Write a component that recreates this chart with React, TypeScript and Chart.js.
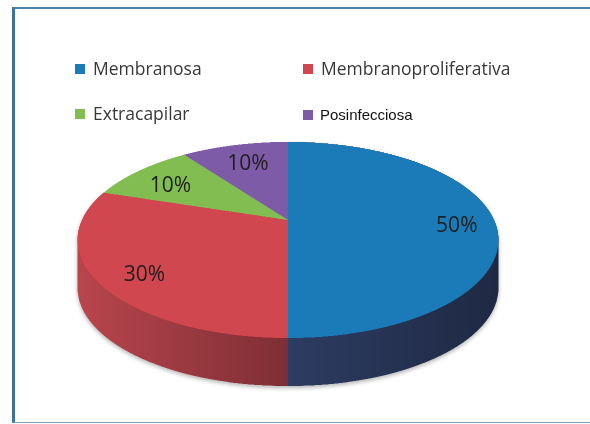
import React, { useEffect, useRef } from 'react';
import { Chart, registerables } from 'chart.js';

Chart.register(...registerables);

// ---- data ----
const categories = ['Membranosa', 'Membranoproliferativa', 'Extracapilar', 'Posinfecciosa'];
const values = [50, 30, 10, 10];
const topColors = ['#1b7bb8', '#d1474f', '#82bd51', '#7d5ba6'];
const sideColors = ['#2d3c62', '#b9454d', '#5f8c3a', '#5a4080'];

// ---- layout / style ----
const W = 590;
const H = 424;
const PROJ = { cx: 288, cy: 220, a: 206, b: 94, k: -0.204, depth: 48, ss: 2 };

function project(X: number, Z: number) {
  const d = 1 + PROJ.k * Z;
  return { x: PROJ.cx + (PROJ.a * X) / d, y: PROJ.cy + (PROJ.b * Z) / d };
}

function makeCanvas(w: number, h: number) {
  const c = document.createElement('canvas');
  c.width = Math.ceil(w);
  c.height = Math.ceil(h);
  return c;
}

function renderSource(arcs: any[], colorFor: (i: number) => string | null) {
  const first = arcs[0];
  const R = first.outerRadius;
  const ox = first.x;
  const oy = first.y;
  const res = 4;
  const m = 2;
  const span = 2 * R * res;
  const c = makeCanvas(span + 2 * m, span + 2 * m);
  const g = c.getContext('2d')!;
  g.translate(m, m);
  g.scale(res, res);
  g.translate(-(ox - R), -(oy - R));
  arcs.forEach((arc, i) => {
    const col = colorFor(i);
    if (col == null) return;
    const el = Object.create(arc);
    el.options = { ...arc.options, backgroundColor: col, borderWidth: 0 };
    el.draw(g);
  });
  return { canvas: c, m, span };
}

function warp(src: { canvas: HTMLCanvasElement; m: number; span: number }) {
  const S = PROJ.ss;
  const out = makeCanvas(W * S, H * S);
  const g = out.getContext('2d')!;
  g.imageSmoothingEnabled = true;
  for (let j = 0; j < H * S; j++) {
    const yp = (j + 0.5) / S - PROJ.cy;
    const Z = yp / (PROJ.b - PROJ.k * yp);
    if (Z <= -1 || Z >= 1) continue;
    const sy = src.m + ((Z + 1) / 2) * src.span;
    const half = PROJ.a / (1 + PROJ.k * Z);
    g.drawImage(src.canvas, src.m, Math.floor(sy), src.span, 1, (PROJ.cx - half) * S, j, 2 * half * S, 1);
  }
  return out;
}

function extrude(img: HTMLCanvasElement, D: number) {
  const out = makeCanvas(img.width, img.height);
  const g = out.getContext('2d')!;
  g.drawImage(img, 0, 0);
  const tmp = makeCanvas(img.width, img.height);
  const tg = tmp.getContext('2d')!;
  let covered = 0;
  while (covered < D) {
    const s = Math.min(covered + 1, D - covered);
    tg.clearRect(0, 0, tmp.width, tmp.height);
    tg.drawImage(out, 0, 0);
    g.drawImage(tmp, 0, s);
    covered += s;
  }
  return { canvas: out, g };
}

const pie3d = {
  id: 'pie3d',
  beforeDatasetsDraw(chart: any) {
    const meta = chart.getDatasetMeta(0);
    const arcs = meta.data as any[];
    if (!arcs.length) return false;
    const ctx: CanvasRenderingContext2D = chart.ctx;
    const S = PROJ.ss;

    // side walls, one slice at a time
    const sides = makeCanvas(W * S, H * S);
    const sg = sides.getContext('2d')!;
    arcs.forEach((arc, i) => {
      let xmin = Infinity;
      let xmax = -Infinity;
      const steps = 120;
      for (let s = 0; s <= steps; s++) {
        const ang = arc.startAngle + ((arc.endAngle - arc.startAngle) * s) / steps;
        if (Math.sin(ang) <= 0) continue;
        const p = project(Math.cos(ang), Math.sin(ang));
        xmin = Math.min(xmin, p.x);
        xmax = Math.max(xmax, p.x);
      }
      if (!isFinite(xmin)) return;
      const src = renderSource(arcs, (k) => (k === i ? sideColors[i] : null));
      const wimg = warp(src);
      const ex = extrude(wimg, PROJ.depth * S);
      const grad = ex.g.createLinearGradient(xmin * S, 0, xmax * S, 0);
      grad.addColorStop(0, 'rgba(0,0,0,0)');
      grad.addColorStop(1, 'rgba(0,0,0,0.32)');
      ex.g.globalCompositeOperation = 'source-atop';
      ex.g.fillStyle = grad;
      ex.g.fillRect(0, 0, W * S, H * S);
      sg.drawImage(ex.canvas, 0, 0);
    });

    ctx.save();
    ctx.shadowColor = 'rgba(0,0,0,0.3)';
    ctx.shadowBlur = 4;
    ctx.shadowOffsetY = 2;
    ctx.drawImage(sides, 0, 0, W, H);
    ctx.restore();

    // top face
    const topSrc = renderSource(arcs, (k) => topColors[k]);
    const topImg = warp(topSrc);
    ctx.drawImage(topImg, 0, 0, W, H);

    // percentage labels
    const total = values.reduce((s, v) => s + v, 0);
    ctx.save();
    ctx.font = '21px "Open Sans"';
    ctx.fillStyle = '#1e1e1e';
    ctx.textAlign = 'center';
    ctx.textBaseline = 'middle';
    arcs.forEach((arc, i) => {
      const mid = (arc.startAngle + arc.endAngle) / 2;
      const f = 0.8;
      const p = project(f * Math.cos(mid), f * Math.sin(mid));
      ctx.fillText(Math.round((values[i] / total) * 100) + '%', p.x + 4, p.y + 6);
    });
    ctx.restore();
    return false;
  },
};

const legendCols = [75, 303];
const legendRows = [64, 109];

export default function App() {
  const ref = useRef<HTMLCanvasElement>(null);
  useEffect(() => {
    document.body.style.margin = '0';
    const chart = new Chart(ref.current!, {
      type: 'pie',
      data: {
        labels: categories,
        datasets: [{ data: values, backgroundColor: topColors, borderWidth: 0 }],
      },
      options: {
        responsive: false,
        animation: false,
        events: [],
        plugins: { legend: { display: false }, tooltip: { enabled: false } },
      },
      plugins: [pie3d as any],
    });
    return () => chart.destroy();
  }, []);

  return (
    <div style={{ position: 'relative', width: W, height: H, overflow: 'hidden', background: '#ffffff' }}>
      <canvas ref={ref} width={W} height={H} style={{ position: 'absolute', left: 0, top: 0 }} />
      <div
        style={{
          position: 'absolute',
          left: 12,
          top: 7,
          width: W,
          height: 413,
          borderTop: '2.5px solid #4a82a8',
          borderLeft: '3px solid #3c74a0',
          borderBottom: '1.5px solid #7fa2ba',
          pointerEvents: 'none',
        }}
      />
      {categories.map((c, i) => {
        const col = i % 2;
        const row = Math.floor(i / 2);
        const alt = i === 3;
        return (
          <div key={c}>
            <div
              style={{
                position: 'absolute',
                left: legendCols[col],
                top: legendRows[row] + (alt ? 1 : 0),
                width: 10,
                height: 10,
                background: topColors[i],
              }}
            />
            <div
              style={{
                position: 'absolute',
                left: legendCols[col] + (alt ? 17 : 18),
                top: legendRows[row] - (alt ? 4.5 : 6),
                lineHeight: '20px',
                fontFamily: alt ? '"Liberation Sans", Arial, sans-serif' : '"Open Sans", sans-serif',
                fontSize: alt ? 15 : 17.5,
                color: alt ? '#111111' : '#383838',
                whiteSpace: 'nowrap',
              }}
            >
              {c}
            </div>
          </div>
        );
      })}
    </div>
  );
}
